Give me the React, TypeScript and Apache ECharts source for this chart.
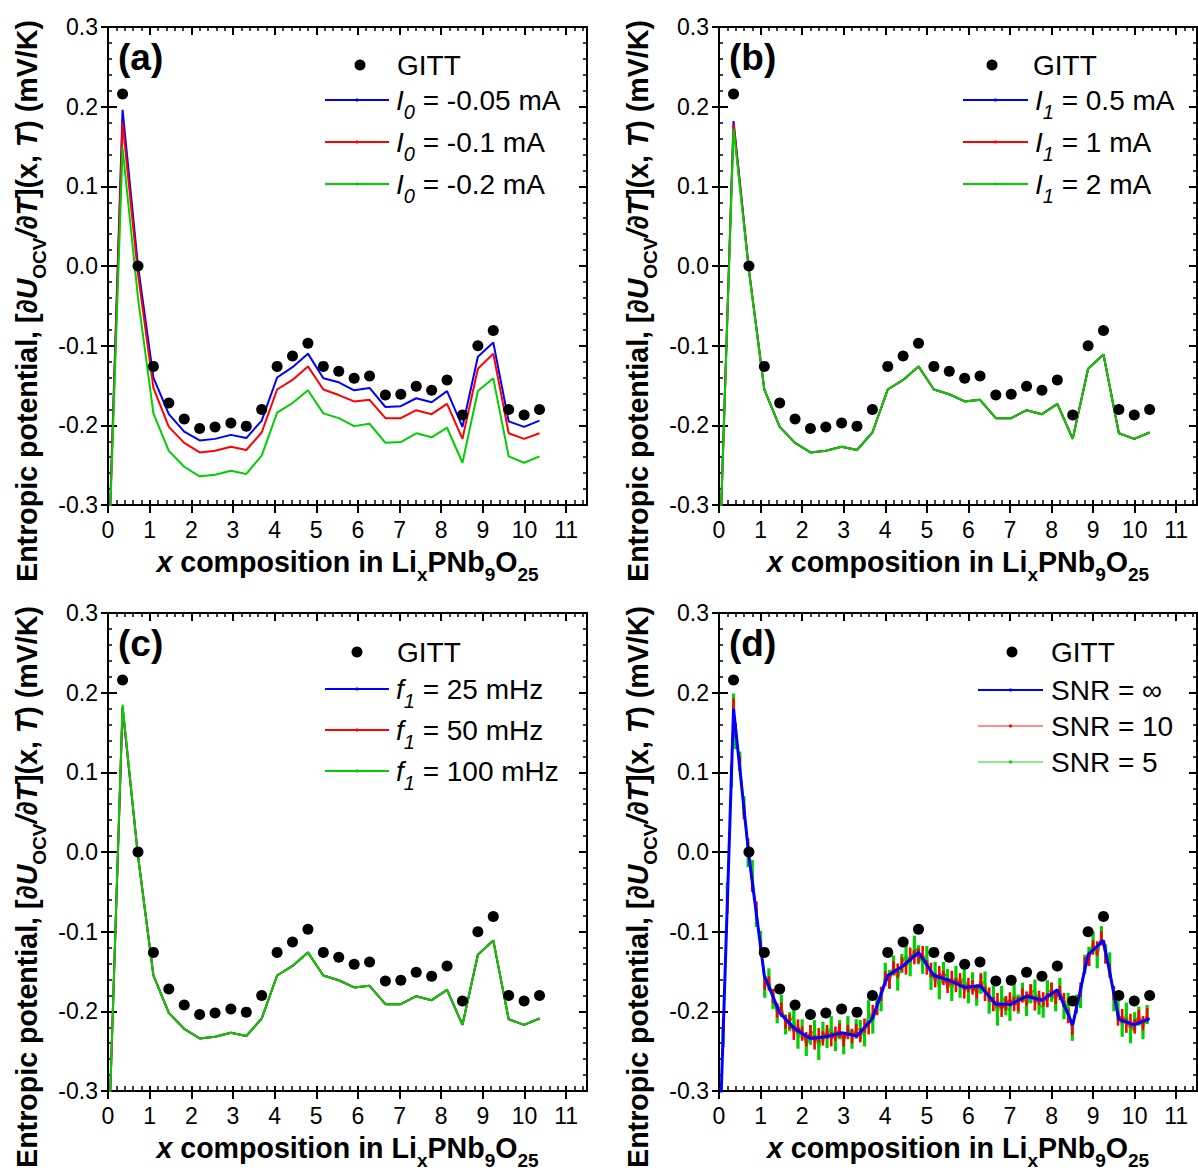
import React, { useEffect, useRef } from 'react';
import * as echarts from 'echarts';

// ---------------- data ----------------
const xTickValues = [0, 1, 2, 3, 4, 5, 6, 7, 8, 9, 10, 11];

const gittX = [0.35, 0.72, 1.09, 1.46, 1.83, 2.2, 2.57, 2.95, 3.32, 3.69, 4.06, 4.43, 4.8, 5.17, 5.54, 5.91, 6.28, 6.66, 7.03, 7.4, 7.77, 8.14, 8.51, 8.88, 9.25, 9.62, 9.99, 10.36];
const gittY = [0.216, 0.0, -0.126, -0.172, -0.192, -0.204, -0.202, -0.197, -0.201, -0.180, -0.126, -0.113, -0.097, -0.126, -0.132, -0.141, -0.138, -0.162, -0.161, -0.151, -0.156, -0.143, -0.187, -0.100, -0.081, -0.180, -0.187, -0.180];

const simX = [0.0, 0.35, 0.72, 1.09, 1.46, 1.83, 2.2, 2.57, 2.95, 3.32, 3.69, 4.06, 4.43, 4.8, 5.17, 5.54, 5.91, 6.28, 6.66, 7.03, 7.4, 7.77, 8.14, 8.51, 8.88, 9.25, 9.62, 9.99, 10.36];

// panel (a): I0 variation
const aI0m005 = [-0.39, 0.196, 0.0, -0.140, -0.186, -0.208, -0.219, -0.217, -0.212, -0.216, -0.194, -0.140, -0.127, -0.110, -0.141, -0.146, -0.156, -0.153, -0.177, -0.176, -0.166, -0.171, -0.157, -0.202, -0.114, -0.096, -0.195, -0.202, -0.194];
const aI0m01 = [-0.39, 0.180, -0.010, -0.153, -0.202, -0.222, -0.234, -0.232, -0.227, -0.231, -0.209, -0.155, -0.143, -0.126, -0.155, -0.162, -0.170, -0.168, -0.191, -0.191, -0.181, -0.186, -0.173, -0.217, -0.129, -0.110, -0.210, -0.217, -0.210];
const aI0m02 = [-0.39, 0.148, -0.040, -0.185, -0.232, -0.252, -0.264, -0.262, -0.257, -0.261, -0.238, -0.184, -0.172, -0.156, -0.185, -0.191, -0.201, -0.198, -0.222, -0.221, -0.210, -0.215, -0.203, -0.247, -0.157, -0.141, -0.239, -0.247, -0.239];

// panel (b): I1 variation
const bI105 = [-0.39, 0.182, -0.005, -0.155, -0.202, -0.222, -0.234, -0.232, -0.227, -0.231, -0.209, -0.155, -0.143, -0.126, -0.155, -0.161, -0.170, -0.168, -0.191, -0.191, -0.181, -0.186, -0.173, -0.217, -0.129, -0.111, -0.210, -0.217, -0.209];
const bI11 = [-0.39, 0.178, -0.005, -0.155, -0.202, -0.222, -0.234, -0.232, -0.227, -0.231, -0.209, -0.155, -0.143, -0.126, -0.155, -0.161, -0.170, -0.168, -0.191, -0.191, -0.181, -0.186, -0.173, -0.217, -0.129, -0.111, -0.210, -0.217, -0.209];
const bI12 = [-0.39, 0.172, -0.007, -0.155, -0.202, -0.222, -0.234, -0.232, -0.227, -0.231, -0.209, -0.155, -0.143, -0.126, -0.155, -0.161, -0.170, -0.168, -0.191, -0.191, -0.181, -0.186, -0.173, -0.217, -0.129, -0.111, -0.210, -0.217, -0.209];

// panel (c): f1 variation
const cF25 = [-0.39, 0.181, -0.005, -0.155, -0.202, -0.222, -0.234, -0.232, -0.227, -0.231, -0.209, -0.155, -0.143, -0.126, -0.155, -0.161, -0.170, -0.168, -0.191, -0.191, -0.181, -0.186, -0.173, -0.217, -0.129, -0.111, -0.210, -0.217, -0.209];
const cF50 = [-0.39, 0.182, -0.005, -0.155, -0.202, -0.222, -0.234, -0.232, -0.227, -0.231, -0.209, -0.155, -0.143, -0.126, -0.155, -0.161, -0.170, -0.168, -0.191, -0.191, -0.181, -0.186, -0.173, -0.217, -0.129, -0.111, -0.210, -0.217, -0.209];
const cF100 = [-0.39, 0.185, -0.005, -0.155, -0.202, -0.222, -0.234, -0.232, -0.227, -0.231, -0.209, -0.155, -0.143, -0.126, -0.155, -0.161, -0.170, -0.168, -0.191, -0.191, -0.181, -0.186, -0.173, -0.217, -0.129, -0.111, -0.210, -0.217, -0.209];

// panel (d): SNR variation
const dSnrInf = [-0.39, 0.180, -0.005, -0.155, -0.202, -0.222, -0.234, -0.232, -0.227, -0.231, -0.209, -0.155, -0.143, -0.126, -0.155, -0.161, -0.170, -0.168, -0.191, -0.191, -0.181, -0.186, -0.173, -0.217, -0.129, -0.111, -0.210, -0.217, -0.209];

const noiseX = [0.1, 0.2, 0.3, 0.35, 0.4, 0.5, 0.6, 0.7, 0.8, 0.9, 1.0, 1.1, 1.2, 1.3, 1.4, 1.5, 1.6, 1.7, 1.8, 1.9, 2.0, 2.1, 2.2, 2.3, 2.4, 2.5, 2.6, 2.7, 2.8, 2.9, 3.0, 3.1, 3.2, 3.3, 3.4, 3.5, 3.6, 3.7, 3.8, 3.9, 4.0, 4.1, 4.2, 4.3, 4.4, 4.5, 4.6, 4.7, 4.8, 4.9, 5.0, 5.1, 5.2, 5.3, 5.4, 5.5, 5.6, 5.7, 5.8, 5.9, 6.0, 6.1, 6.2, 6.3, 6.4, 6.5, 6.6, 6.7, 6.8, 6.9, 7.0, 7.1, 7.2, 7.3, 7.4, 7.5, 7.6, 7.7, 7.8, 7.9, 8.0, 8.1, 8.2, 8.3, 8.4, 8.5, 8.6, 8.7, 8.8, 8.9, 9.0, 9.1, 9.2, 9.3, 9.4, 9.5, 9.6, 9.7, 9.8, 9.9, 10.0, 10.1, 10.2, 10.3];
const dSnr10 = [-0.218, -0.068, 0.102, 0.184, 0.153, 0.111, 0.050, 0.008, -0.041, -0.071, -0.121, -0.164, -0.165, -0.181, -0.199, -0.198, -0.213, -0.213, -0.227, -0.219, -0.228, -0.235, -0.226, -0.239, -0.230, -0.234, -0.226, -0.235, -0.228, -0.224, -0.235, -0.226, -0.231, -0.225, -0.230, -0.218, -0.220, -0.201, -0.196, -0.178, -0.159, -0.162, -0.146, -0.149, -0.141, -0.145, -0.129, -0.132, -0.130, -0.127, -0.145, -0.148, -0.161, -0.152, -0.158, -0.168, -0.158, -0.167, -0.161, -0.175, -0.167, -0.170, -0.175, -0.161, -0.178, -0.179, -0.191, -0.186, -0.198, -0.190, -0.185, -0.191, -0.191, -0.180, -0.184, -0.175, -0.190, -0.183, -0.185, -0.186, -0.173, -0.182, -0.177, -0.186, -0.206, -0.221, -0.192, -0.173, -0.141, -0.134, -0.120, -0.121, -0.108, -0.131, -0.149, -0.177, -0.209, -0.206, -0.218, -0.212, -0.219, -0.207, -0.215, -0.205];
const dSnr5 = [-0.233, -0.050, 0.093, 0.187, 0.141, 0.114, 0.058, -0.007, -0.022, -0.082, -0.111, -0.171, -0.158, -0.185, -0.203, -0.191, -0.217, -0.213, -0.206, -0.235, -0.222, -0.244, -0.230, -0.223, -0.249, -0.225, -0.234, -0.218, -0.238, -0.223, -0.242, -0.218, -0.235, -0.222, -0.223, -0.232, -0.198, -0.216, -0.192, -0.188, -0.151, -0.160, -0.142, -0.162, -0.140, -0.129, -0.144, -0.117, -0.129, -0.141, -0.130, -0.161, -0.150, -0.173, -0.150, -0.159, -0.175, -0.155, -0.171, -0.155, -0.178, -0.163, -0.181, -0.166, -0.162, -0.191, -0.180, -0.206, -0.180, -0.193, -0.200, -0.175, -0.191, -0.176, -0.194, -0.178, -0.172, -0.192, -0.196, -0.173, -0.176, -0.188, -0.170, -0.198, -0.189, -0.225, -0.191, -0.184, -0.141, -0.131, -0.112, -0.134, -0.105, -0.128, -0.138, -0.188, -0.199, -0.220, -0.201, -0.228, -0.213, -0.206, -0.223, -0.204];
const dSnr10Err = 0.009;
const dSnr5Err = 0.012;

// ---------------- styling ----------------
const FONT = "'Liberation Sans', Arial, Helvetica, sans-serif";
const BLUE = '#0000ff';
const RED = '#ff0000';
const GREEN = '#00d000';

const gridBoxes = [
  { left: 108, top: 27, width: 479, height: 478 },
  { left: 719, top: 27, width: 478, height: 478 },
  { left: 108, top: 613, width: 479, height: 478 },
  { left: 719, top: 613, width: 478, height: 478 },
];

function xAxesFor(g: number) {
  const base: any = { type: 'value', gridIndex: g, min: 0, max: 11.5, interval: 1, splitLine: { show: false } };
  const tickLine = { color: '#000', width: 2 };
  return [
    {
      ...base, position: 'bottom',
      axisLine: { show: true, onZero: false, lineStyle: { color: '#000', width: 2 } },
      axisTick: { show: true, inside: false, length: 8, lineStyle: tickLine, customValues: xTickValues },
      axisLabel: {
        show: true, customValues: xTickValues, margin: 13, color: '#000', fontSize: 23, fontFamily: FONT,
        formatter: (v: number) => (Number.isInteger(v) ? String(v) : ''),
      },
    },
    {
      ...base, position: 'bottom',
      axisLine: { show: false, onZero: false },
      axisTick: { show: true, inside: true, length: 5, lineStyle: tickLine },
      minorTick: { show: true, splitNumber: 5, length: 5, lineStyle: { color: '#000', width: 1.5 } },
      axisLabel: { show: false },
    },
    {
      ...base, position: 'top',
      axisLine: { show: true, onZero: false, lineStyle: { color: '#000', width: 2 } },
      axisTick: { show: true, inside: true, length: 8, lineStyle: tickLine },
      minorTick: { show: true, splitNumber: 5, length: 4, lineStyle: { color: '#000', width: 1.5 } },
      axisLabel: { show: false },
    },
  ];
}

function yAxesFor(g: number) {
  const base: any = { type: 'value', gridIndex: g, min: -0.3, max: 0.3, interval: 0.1, splitLine: { show: false } };
  const tickLine = { color: '#000', width: 2 };
  return [
    {
      ...base, position: 'left',
      axisLine: { show: true, onZero: false, lineStyle: { color: '#000', width: 2 } },
      axisTick: { show: true, inside: false, length: 7, lineStyle: tickLine },
      axisLabel: {
        show: true, margin: 10, color: '#000', fontSize: 23, fontFamily: FONT,
        formatter: (v: number) => (Math.abs(v) < 1e-9 ? '0.0' : v.toFixed(1)),
      },
    },
    {
      ...base, position: 'left',
      axisLine: { show: false, onZero: false },
      axisTick: { show: true, inside: true, length: 9, lineStyle: tickLine },
      minorTick: { show: true, splitNumber: 5, length: 4, lineStyle: { color: '#000', width: 1.5 } },
      axisLabel: { show: false },
    },
    {
      ...base, position: 'right',
      axisLine: { show: true, onZero: false, lineStyle: { color: '#000', width: 2 } },
      axisTick: { show: true, inside: true, length: 8, lineStyle: tickLine },
      minorTick: { show: true, splitNumber: 5, length: 4, lineStyle: { color: '#000', width: 1.5 } },
      axisLabel: { show: false },
    },
  ];
}

function lineSeries(g: number, name: string, xs: number[], ys: number[], color: string, width: number, z: number) {
  return {
    type: 'line', name, xAxisIndex: 3 * g, yAxisIndex: 3 * g,
    data: xs.map((x, i) => [x, ys[i]]),
    showSymbol: false, symbol: 'none', clip: true, silent: true, z,
    lineStyle: { color, width }, itemStyle: { color },
  };
}

function gittSeries(g: number) {
  return {
    type: 'scatter', name: 'GITT', xAxisIndex: 3 * g, yAxisIndex: 3 * g,
    data: gittX.map((x, i) => [x, gittY[i]]),
    symbol: 'circle', symbolSize: 11, itemStyle: { color: '#000', opacity: 1 }, z: 20, silent: true,
  };
}

function errorBarSeries(g: number, name: string, xs: number[], ys: number[], err: number, color: string, width: number, z: number) {
  return {
    type: 'custom', name, xAxisIndex: 3 * g, yAxisIndex: 3 * g, z, silent: true, clip: true,
    data: xs.map((x, i) => [x, ys[i], err]),
    encode: { x: 0, y: 1 },
    renderItem: (params: any, api: any) => {
      const x = api.value(0);
      const y = api.value(1);
      const e = api.value(2);
      const p1 = api.coord([x, y - e]);
      const p2 = api.coord([x, y + e]);
      return {
        type: 'line',
        shape: { x1: p1[0], y1: p1[1], x2: p2[0], y2: p2[1] },
        style: { stroke: color, lineWidth: width },
      };
    },
  };
}

// ---------------- text helpers ----------------
const legendRich: any = {
  n: { fontFamily: FONT, fontSize: 28, lineHeight: 32, fill: '#000' },
  i: { fontFamily: FONT, fontSize: 28, fontStyle: 'italic', lineHeight: 32, fill: '#000' },
  isub: { fontFamily: FONT, fontSize: 20, fontStyle: 'italic', height: 8, verticalAlign: 'bottom', fill: '#000' },
};
const titleRich: any = {
  b: { fontFamily: FONT, fontSize: 28.6, fontWeight: 'bold', lineHeight: 34, fill: '#000' },
  bi: { fontFamily: FONT, fontSize: 28.6, fontWeight: 'bold', fontStyle: 'italic', lineHeight: 34, fill: '#000' },
  sub: { fontFamily: FONT, fontSize: 19, fontWeight: 'bold', height: 9, verticalAlign: 'bottom', fill: '#000' },
};

const yTitleText = '{b|Entropic potential, [}{bi|∂U}{sub|OCV}{bi|/∂T}{b|](x, }{bi|T}{b|) (mV/K)}';
const xTitleText = '{bi|x}{b| composition in Li}{sub|x}{b|PNb}{sub|9}{b|O}{sub|25}';

function textEl(x: number, y: number, text: string, rich: any, align: string, rotation = 0) {
  return {
    type: 'text', x, y, rotation, silent: true,
    style: { text, rich, fill: '#000', align, textAlign: align, verticalAlign: 'middle', textVerticalAlign: 'middle' },
  };
}

function legendLine(x1: number, x2: number, y: number, color: string, width: number, opacity = 1) {
  return [
    { type: 'line', silent: true, shape: { x1, y1: y, x2, y2: y }, style: { stroke: color, lineWidth: width, opacity } },
    { type: 'circle', silent: true, shape: { cx: (x1 + x2) / 2, cy: y, r: 1.6 }, style: { fill: color } },
  ];
}

const panelLabels = ['(a)', '(b)', '(c)', '(d)'];
const legendTexts = [
  ['{i|I}{isub|0}{n| = -0.05 mA}', '{i|I}{isub|0}{n| = -0.1 mA}', '{i|I}{isub|0}{n| = -0.2 mA}'],
  ['{i|I}{isub|1}{n| = 0.5 mA}', '{i|I}{isub|1}{n| = 1 mA}', '{i|I}{isub|1}{n| = 2 mA}'],
  ['{i|f}{isub|1}{n| = 25 mHz}', '{i|f}{isub|1}{n| = 50 mHz}', '{i|f}{isub|1}{n| = 100 mHz}'],
  ['{n|SNR = ∞}', '{n|SNR = 10}', '{n|SNR = 5}'],
];
const legendLayouts = [
  { dotX: 360, dotY: 65, gittTextX: 397, lineX1: 325, lineX2: 389, textX: 396, ys: [100, 142, 184] },
  { dotX: 992, dotY: 65, gittTextX: 1033, lineX1: 963, lineX2: 1028, textX: 1035, ys: [100, 142, 184] },
  { dotX: 357, dotY: 652, gittTextX: 397, lineX1: 325, lineX2: 389, textX: 396, ys: [689, 730, 771] },
  { dotX: 1012, dotY: 652, gittTextX: 1051, lineX1: 978, lineX2: 1043, textX: 1051, ys: [690, 726, 762] },
];
const legendColors = [BLUE, RED, GREEN];

function buildGraphic() {
  const els: any[] = [];
  gridBoxes.forEach((gb, g) => {
    const cx = gb.left + gb.width / 2;
    const cy = gb.top + gb.height / 2;
    els.push(textEl(gb.left + 10, gb.top + 30, '{p|' + panelLabels[g] + '}', {
      p: { fontFamily: FONT, fontSize: 37, fontWeight: 'bold', fill: '#000' },
    }, 'left'));
    els.push(textEl(cx, gb.top + gb.height + 57, xTitleText, titleRich, 'center'));
    els.push(textEl(gb.left - 81, cy + 35, yTitleText, titleRich, 'center', Math.PI / 2));
    const L = legendLayouts[g];
    els.push({ type: 'circle', silent: true, shape: { cx: L.dotX, cy: L.dotY, r: 5.5 }, style: { fill: '#000' } });
    els.push(textEl(L.gittTextX, L.dotY, '{n|GITT}', legendRich, 'left'));
    L.ys.forEach((y, k) => {
      const thin = g === 3 && k > 0;
      els.push(...legendLine(L.lineX1, L.lineX2, y, legendColors[k], thin ? 1.5 : 2, thin ? 0.6 : 1));
      els.push(textEl(L.textX, y, legendTexts[g][k], legendRich, 'left'));
    });
  });
  return els;
}

function buildOption() {
  const xAxis: any[] = [];
  const yAxis: any[] = [];
  for (let g = 0; g < 4; g++) {
    xAxis.push(...xAxesFor(g));
    yAxis.push(...yAxesFor(g));
  }
  const series: any[] = [
    lineSeries(0, 'I0 = -0.05 mA', simX, aI0m005, BLUE, 2, 2),
    lineSeries(0, 'I0 = -0.1 mA', simX, aI0m01, RED, 2, 3),
    lineSeries(0, 'I0 = -0.2 mA', simX, aI0m02, GREEN, 2, 4),
    gittSeries(0),
    lineSeries(1, 'I1 = 0.5 mA', simX, bI105, BLUE, 2, 2),
    lineSeries(1, 'I1 = 1 mA', simX, bI11, RED, 2, 3),
    lineSeries(1, 'I1 = 2 mA', simX, bI12, GREEN, 2, 4),
    gittSeries(1),
    lineSeries(2, 'f1 = 25 mHz', simX, cF25, BLUE, 2, 2),
    lineSeries(2, 'f1 = 50 mHz', simX, cF50, RED, 2, 3),
    lineSeries(2, 'f1 = 100 mHz', simX, cF100, GREEN, 2, 4),
    gittSeries(2),
    lineSeries(3, 'SNR = 5', noiseX, dSnr5, GREEN, 1.5, 2),
    errorBarSeries(3, 'SNR = 5 err', noiseX, dSnr5, dSnr5Err, GREEN, 3.2, 2),
    lineSeries(3, 'SNR = 10', noiseX, dSnr10, RED, 1.5, 3),
    errorBarSeries(3, 'SNR = 10 err', noiseX, dSnr10, dSnr10Err, RED, 2.6, 3),
    lineSeries(3, 'SNR = ∞', simX, dSnrInf, BLUE, 3, 5),
    gittSeries(3),
  ];
  return {
    animation: false,
    backgroundColor: '#ffffff',
    grid: gridBoxes.map((b) => ({ ...b, containLabel: false })),
    xAxis,
    yAxis,
    series,
    graphic: { elements: buildGraphic() },
  };
}

export default function App() {
  const ref = useRef<HTMLDivElement>(null);
  useEffect(() => {
    document.body.style.margin = '0';
    if (!ref.current) return;
    const chart = echarts.init(ref.current, null, { renderer: 'svg', width: 1198, height: 1172 });
    chart.setOption(buildOption() as any);
    return () => chart.dispose();
  }, []);
  return <div ref={ref} style={{ width: 1198, height: 1172 }} />;
}
